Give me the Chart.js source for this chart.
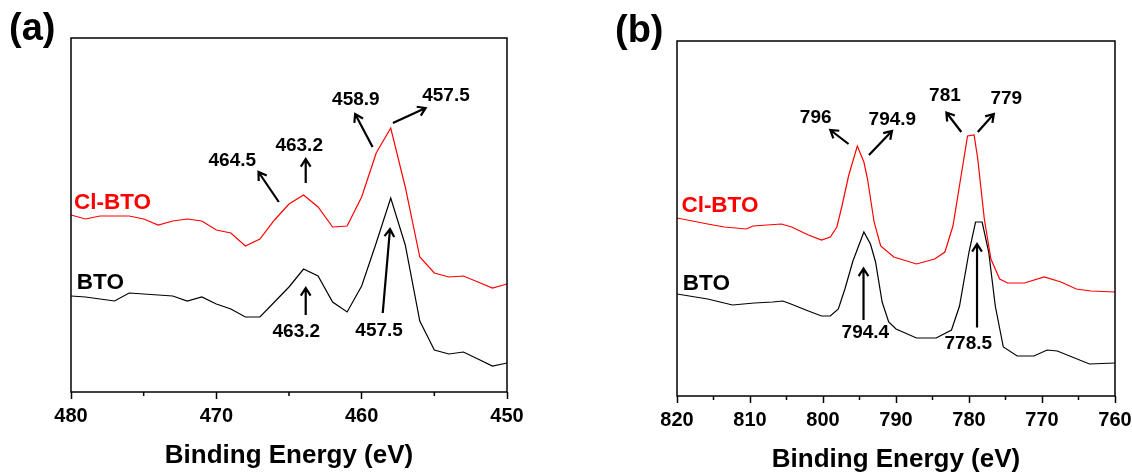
<!DOCTYPE html>
<html>
<head>
<meta charset="utf-8">
<script src="https://cdn.jsdelivr.net/npm/chart.js@4.4.1/dist/chart.umd.min.js"></script>
<style>
  html, body { margin: 0; padding: 0; background: #fff; }
  body { width: 1132px; height: 475px; position: relative; overflow: hidden; }
  .panel { position: absolute; top: 0; width: 566px; height: 475px; }
  #panelA { left: 0; }
  #panelB { left: 566px; }
</style>
</head>
<body>
<div class="panel" id="panelA"><canvas id="chartA"></canvas></div>
<div class="panel" id="panelB"><canvas id="chartB"></canvas></div>
<script>
// Panel (a): Ti 2p region, one point per eV
const tiEnergy = [480, 479, 478, 477, 476, 475, 474, 473, 472, 471,
                  470, 469, 468, 467, 466, 465, 464, 463, 462, 461,
                  460, 459, 458, 457, 456, 455, 454, 453, 452, 451, 450];
const tiClBto = [177, 173, 176, 176, 176, 173, 167, 171, 173, 171,
                 162, 159, 146, 153, 172, 188, 197, 185, 165, 166,
                 195, 239, 264, 205, 135, 119, 115, 116, 110, 104, 108];
const tiBto = [96, 95, 93, 91, 99, 98, 97, 96, 91, 95,
               88, 83, 75, 75, 90, 105, 123, 116, 90, 80,
               106, 149, 194, 147, 71, 42, 38, 40, 33, 26, 29];

// Panel (b): Co 2p region
const coEnergyCl = [820, 815.8, 813.5, 810.5, 809.6, 805.7, 804.3, 802, 800.2, 799,
                    798.1, 797.4, 796.5, 795.3, 794.4, 793.9, 793, 792.1, 790.3, 787.2,
                    784.7, 783.3, 782.2, 781, 780.2, 779.3, 778.8, 777.9, 777, 775.8,
                    774.7, 772.4, 769.7, 767.4, 765.3, 763.3, 760];
const coClBto = [178, 172, 169, 167, 170, 172, 169, 161, 156, 159,
                 169, 190, 220, 250, 234, 217, 174, 150, 139, 132,
                 137, 144, 170, 224, 260, 261, 237, 177, 137, 117,
                 113, 113, 119, 114, 107, 105, 104];
const coEnergyBto = [820, 815.8, 812.4, 809.4, 806.9, 805.5, 804.4, 802, 800.2, 799,
                     797.9, 797, 795.9, 794.4, 793.5, 792.8, 791.9, 791, 790, 787.2,
                     784.5, 782.4, 781.3, 780, 779.1, 778.2, 777.3, 776.4, 775.3, 773.4,
                     771.1, 769.3, 767.9, 763.5, 760];
const coBto = [102, 97, 91, 93, 94, 95, 92, 85, 80, 80,
               87, 107, 135, 164, 152, 134, 94, 74, 67, 58,
               58, 66, 90, 144, 174, 174, 144, 90, 49, 40,
               40, 46, 45, 32, 33];

// Series names, and where they sit (data coords)
const tiTags = [['Cl-BTO', 479.8, 189], ['BTO', 479.6, 109]];
const coTags = [['Cl-BTO', 819.4, 190], ['BTO', 819.2, 112]];

// Peak labels [text, x, y] and arrows [x1, y1, x2, y2] (head at x2,y2)
const tiPeaks = [['464.5', 468.9, 231], ['463.2', 464.3, 246.5], ['458.9', 460.4, 292],
                 ['457.5', 454.2, 296], ['463.2', 464.5, 60], ['457.5', 458.8, 61]];
const tiArrows = [[465.7, 190, 467.1, 220], [463.85, 209, 463.85, 233], [459.25, 245, 460.45, 278],
                  [457.85, 269, 455.6, 284], [463.85, 77, 463.85, 104], [458.55, 79, 458.05, 163]];
const coPeaks = [['796', 801.0, 278], ['794.9', 790.5, 276.5], ['781', 783.3, 300],
                 ['779', 774.9, 297], ['794.4', 794.2, 63], ['778.5', 780.1, 52]];
const coArrows = [[796.5, 252, 799.0, 266], [793.7, 241, 790.55, 265], [781.05, 264, 783.1, 283.5],
                  [778.8, 264, 776.6, 282], [794.45, 76, 794.45, 127.5], [778.9, 68.5, 778.9, 152]];

const FONT = '"Liberation Sans", Arial, sans-serif';
Chart.defaults.font.family = FONT;

function toPoints(xs, ys) {
   return xs.map((x, i) => ({ x: x, y: ys[i] }));
}

function drawArrow(ctx, x1, y1, x2, y2) {
   const ang = Math.atan2(y2 - y1, x2 - x1);
   const head = 9, spread = Math.PI / 5.5;
   ctx.beginPath();
   ctx.moveTo(x1, y1);
   ctx.lineTo(x2, y2);
   ctx.moveTo(x2 - head * Math.cos(ang - spread), y2 - head * Math.sin(ang - spread));
   ctx.lineTo(x2, y2);
   ctx.lineTo(x2 - head * Math.cos(ang + spread), y2 - head * Math.sin(ang + spread));
   ctx.stroke();
}

// Frame, minor ticks, panel letter, series names, peak labels and arrows
const frameAndNotes = {
   id: 'frameAndNotes',
   afterDatasetsDraw(chart, args, opts) {
       const { ctx, chartArea: a, scales: { x, y } } = chart;
       const colors = chart.data.datasets.map(d => d.borderColor);
       ctx.save();

       ctx.strokeStyle = '#000';
       ctx.lineWidth = 1.5;
       ctx.strokeRect(a.left, a.top, a.right - a.left, a.bottom - a.top);
       opts.minor.forEach(v => {
           const px = x.getPixelForValue(v);
           ctx.beginPath();
           ctx.moveTo(px, a.bottom);
           ctx.lineTo(px, a.bottom + 4);
           ctx.stroke();
       });

       ctx.fillStyle = '#000';
       ctx.textBaseline = 'middle';
       ctx.textAlign = 'left';
       ctx.font = 'bold 38px ' + FONT;
       ctx.fillText(opts.letter[0], opts.letter[1], opts.letter[2]);

       ctx.font = 'bold 22.5px ' + FONT;
       opts.tags.forEach((t, i) => {
           ctx.fillStyle = colors[i];
           ctx.fillText(t[0], x.getPixelForValue(t[1]), y.getPixelForValue(t[2]));
       });

       ctx.fillStyle = '#000';
       ctx.textAlign = 'center';
       ctx.font = 'bold 19px ' + FONT;
       opts.peaks.forEach(p => {
           ctx.fillText(p[0], x.getPixelForValue(p[1]), y.getPixelForValue(p[2]));
       });

       ctx.lineWidth = 2.2;
       opts.arrows.forEach(r => {
           drawArrow(ctx, x.getPixelForValue(r[0]), y.getPixelForValue(r[1]),
                     x.getPixelForValue(r[2]), y.getPixelForValue(r[3]));
       });
       ctx.restore();
   }
};

function makeChart(id, cfg) {
   return new Chart(document.getElementById(id), {
       type: 'line',
       data: {
           datasets: [
               { label: 'Cl-BTO', data: cfg.red, borderColor: '#ff0000', borderWidth: 1.2,
                 pointRadius: 0, tension: 0, fill: false },
               { label: 'BTO', data: cfg.black, borderColor: '#000000', borderWidth: 1.2,
                 pointRadius: 0, tension: 0, fill: false }
           ]
       },
       options: {
           responsive: true,
           maintainAspectRatio: false,
           animation: false,
           layout: { padding: cfg.padding },
           plugins: {
               legend: { display: false },
               tooltip: { enabled: false },
               frameAndNotes: cfg.notes
           },
           scales: {
               x: {
                   type: 'linear',
                   reverse: true,
                   min: cfg.xMin,
                   max: cfg.xMax,
                   ticks: { stepSize: 10, color: '#000', padding: 5, maxRotation: 0, autoSkip: false,
                            font: { size: 20, weight: 'bold' } },
                   grid: { drawOnChartArea: false, tickLength: 7, tickColor: '#000', tickWidth: 1.5 },
                   border: { display: false },
                   title: { display: true, text: 'Binding Energy (eV)', color: '#000',
                            font: { size: 26, weight: 'bold' }, padding: { top: 0, bottom: cfg.titlePad } },
                   afterFit(scale) {
                       scale.height = cfg.axisHeight;
                       scale.paddingLeft = 0;
                       scale.paddingRight = 0;
                   }
               },
               y: { display: false, min: 0, max: cfg.yMax }
           }
       },
       plugins: [frameAndNotes]
   });
}

makeChart('chartA', {
   red: toPoints(tiEnergy, tiClBto),
   black: toPoints(tiEnergy, tiBto),
   xMin: 450, xMax: 480, yMax: 354,
   padding: { left: 71, right: 59, top: 38, bottom: 0 },
   axisHeight: 83, titlePad: 4,
   notes: { minor: [475, 465, 455], letter: ['(a)', 9, 30], tags: tiTags, peaks: tiPeaks, arrows: tiArrows }
});

makeChart('chartB', {
   red: toPoints(coEnergyCl, coClBto),
   black: toPoints(coEnergyBto, coBto),
   xMin: 760, xMax: 820, yMax: 355,
   padding: { left: 111, right: 17, top: 41, bottom: 0 },
   axisHeight: 79, titlePad: 0,
   notes: { minor: [815, 805, 795, 785, 775, 765], letter: ['(b)', 49, 32], tags: coTags, peaks: coPeaks, arrows: coArrows }
});
</script>
</body>
</html>
